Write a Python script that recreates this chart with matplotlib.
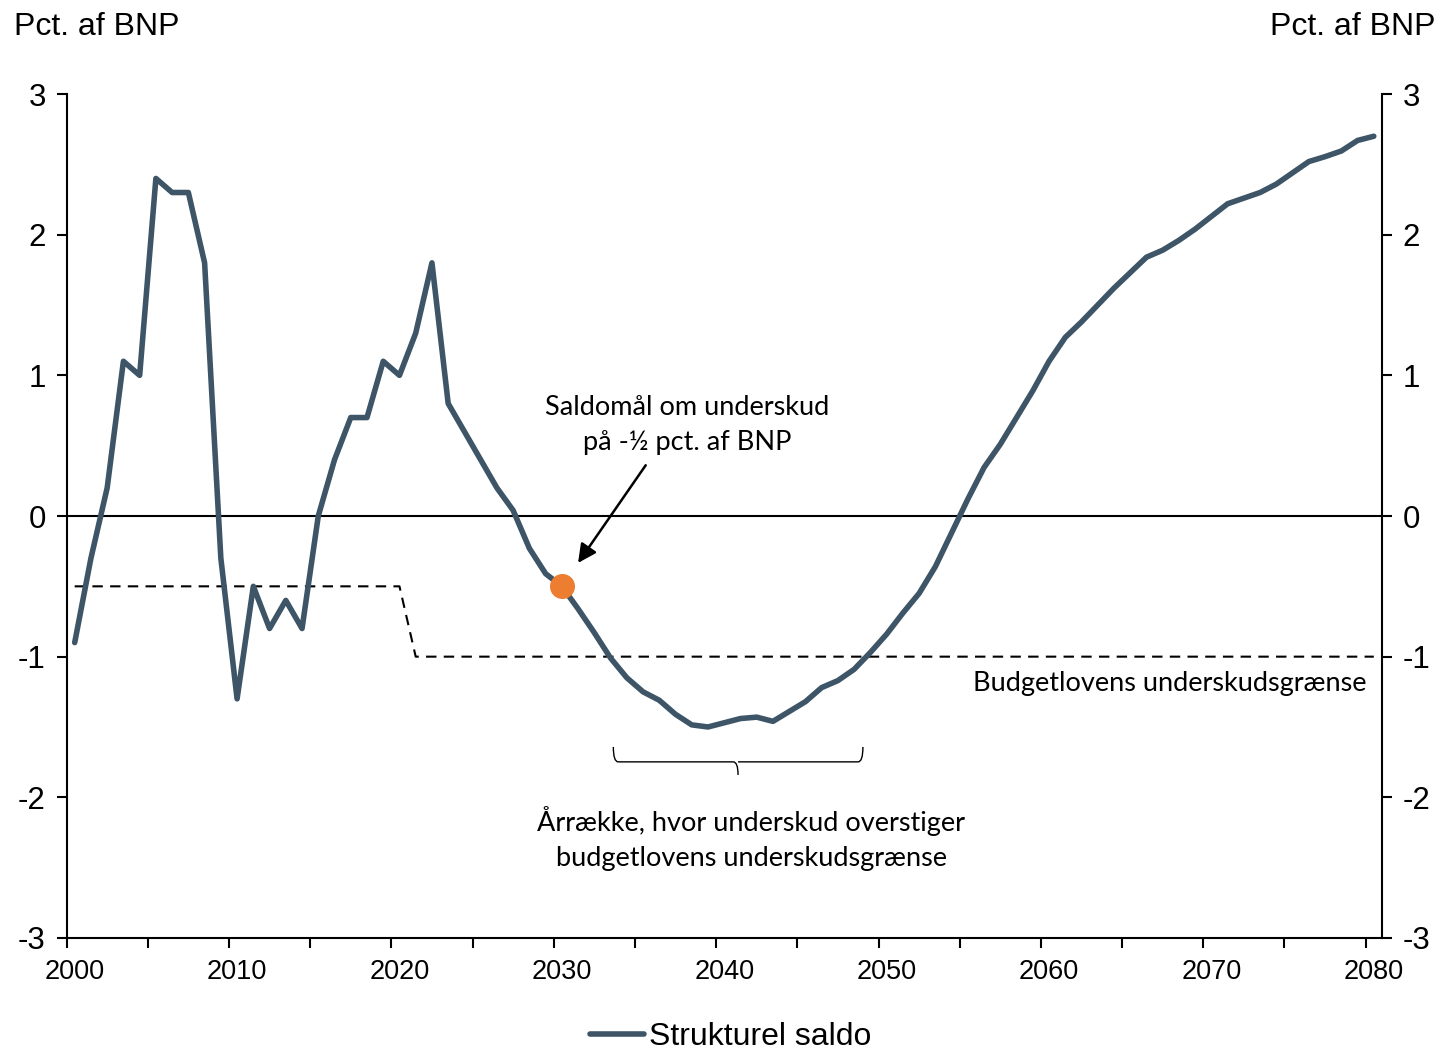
import numpy as np
import matplotlib.pyplot as plt
from matplotlib.path import Path
from matplotlib.patches import PathPatch

plt.rcParams['axes.unicode_minus'] = False

years = np.arange(2000, 2081)
saldo = [-0.9, -0.3, 0.2, 1.1, 1.0, 2.4, 2.3, 2.3, 1.8, -0.3,
         -1.3, -0.5, -0.8, -0.6, -0.8, 0.0, 0.4, 0.7, 0.7, 1.1,
         1.0, 1.3, 1.8, 0.8, 0.6, 0.4, 0.2, 0.04, -0.23, -0.41,
         -0.5, -0.66, -0.83, -1.01, -1.15, -1.25, -1.31, -1.41, -1.485, -1.5,
         -1.47, -1.44, -1.43, -1.46, -1.39, -1.32, -1.22, -1.17, -1.09, -0.97,
         -0.84, -0.69, -0.55, -0.36, -0.12, 0.12, 0.345, 0.51, 0.70, 0.89,
         1.10, 1.27, 1.38, 1.50, 1.62, 1.73, 1.84, 1.89, 1.96, 2.04,
         2.13, 2.22, 2.26, 2.30, 2.36, 2.44, 2.52, 2.555, 2.595, 2.67,
         2.70]
graense = [-0.5] * 21 + [-1.0] * 60
maal_aar, maal_vaerdi = 2030, -0.5

line_col = '#3D5567'
cal = ['Lato', 'DejaVu Sans']
arial = ['Liberation Sans', 'DejaVu Sans']

fig = plt.figure(figsize=(14.41, 10.52), dpi=100)
ax = fig.add_axes([0.0462, 0.1084, 0.9128, 0.8022])

ax.plot(years, graense, color='black', lw=1.5, ls=(0, (5, 3.5)), zorder=2)
ax.axhline(0, color='black', lw=1.5, zorder=1)
ax.plot(years, saldo, color=line_col, lw=4.0, solid_joinstyle='round',
        solid_capstyle='round', label='Strukturel saldo', zorder=3)
ax.plot([maal_aar], [maal_vaerdi], 'o', color='#ED7D31', ms=17, zorder=4)

ax.set_xlim(1999.5, 2080.5)
ax.set_ylim(-3, 3)
ax.set_yticks(range(-3, 4))
ax.set_xticks(np.arange(1999.5, 2080, 5))
ax.set_xticklabels([])
ax.set_xticks(np.arange(2000, 2081, 10), minor=True)
ax.set_xticklabels([str(y) for y in range(2000, 2081, 10)], minor=True,
                   family=arial, fontsize=19.5)
ax.tick_params(axis='x', which='major', length=7, width=1.5, direction='out')
ax.tick_params(axis='x', which='minor', length=0, pad=15)
ax.tick_params(axis='y', length=7, width=1.5, labelsize=22.5, pad=8,
               left=True, right=True, labelleft=True, labelright=True)
for lab in ax.get_yticklabels():
    lab.set_family(arial)
ax.spines['top'].set_visible(False)
for s in ['left', 'right', 'bottom']:
    ax.spines[s].set_linewidth(1.5)

fig.text(0.0097, 0.974, 'Pct. af BNP', family=arial, fontsize=23,
         ha='left', va='center')
fig.text(0.996, 0.974, 'Pct. af BNP', family=arial, fontsize=23,
         ha='right', va='center')

ax.text(2037.7, 0.65, 'Saldomål om underskud\npå -½ pct. af BNP',
        family=cal, fontsize=19.5, ha='center', va='center', linespacing=1.5)
ax.annotate('', xy=(2030.9, -0.35), xytext=(2035.26, 0.377),
            arrowprops=dict(arrowstyle='-|>', color='black', lw=1.8,
                            mutation_scale=28))

ax.text(2079.56, -1.194, 'Budgetlovens underskudsgrænse', family=cal,
        fontsize=19.5, ha='right', va='center')

# tuborgklamme
x0, xm, x1 = 2033.17, 2040.85, 2048.54
yt, yb, yp = -1.642, -1.748, -1.841
verts = [(x0, yt), (x0, yb), (x0 + 0.3, yb), (xm - 0.3, yb), (xm, yb), (xm, yp),
         (xm, yb), (xm + 0.3, yb), (x1 - 0.3, yb), (x1, yb), (x1, yt)]
codes = [Path.MOVETO, Path.CURVE3, Path.CURVE3, Path.LINETO, Path.CURVE3, Path.CURVE3,
         Path.MOVETO, Path.CURVE3, Path.LINETO, Path.CURVE3, Path.CURVE3]
ax.add_patch(PathPatch(Path(verts, codes), fill=False, lw=1.0, color='black'))
ax.text(2041.65, -2.29, 'Årrække, hvor underskud overstiger\nbudgetlovens underskudsgrænse',
        family=cal, fontsize=19.5, ha='center', va='center', linespacing=1.5)

leg = ax.legend(loc='center', bbox_to_anchor=(0.505, -0.117), frameon=False,
                handlelength=1.7, handletextpad=0.15, borderpad=0.1,
                prop={'family': arial, 'size': 23})

fig.savefig('out.png', dpi=100)
